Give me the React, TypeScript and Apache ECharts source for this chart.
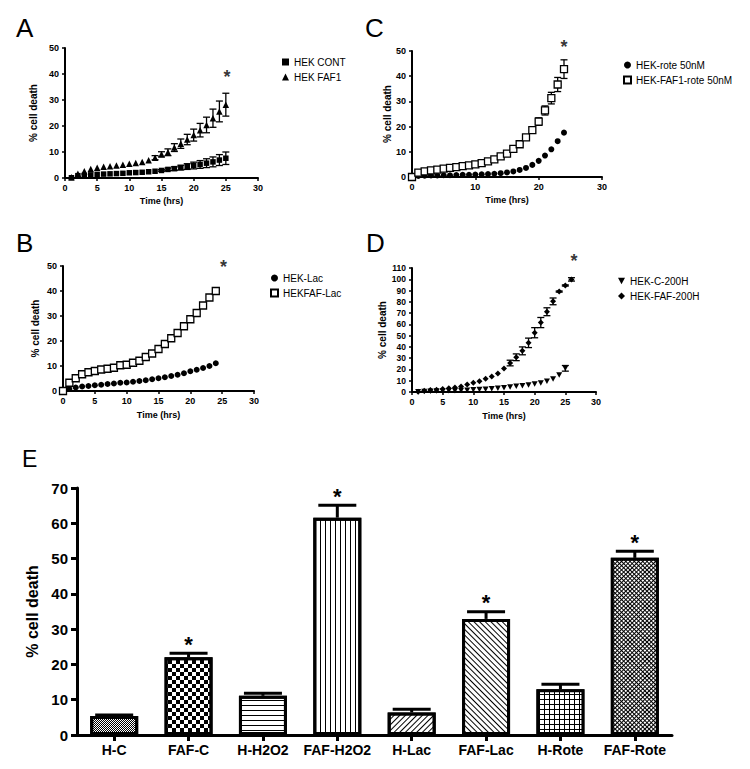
import React, { useEffect, useRef } from "react";
import * as echarts from "echarts";

const FONT = '"Liberation Sans", Arial, Helvetica, sans-serif';

// ---------- Panel A ----------
const aHours = [1, 2, 3, 4, 5, 6, 7, 8, 9, 10, 11, 12, 13, 14, 15, 16, 17, 18, 19, 20, 21, 22, 23, 24, 25];
const aCont = [0.1, 0.9, 1.0, 1.2, 1.4, 1.5, 1.6, 1.7, 1.8, 2.0, 2.1, 2.2, 2.4, 2.6, 2.9, 3.3, 3.6, 4.0, 4.4, 4.8, 5.2, 5.7, 6.2, 6.9, 7.6];
const aContErr = [0, 0, 0, 0, 0, 0, 0, 0, 0, 0, 0, 0, 0, 0, 0.3, 0.5, 0.7, 0.9, 1.1, 1.3, 1.5, 1.7, 1.9, 2.1, 2.4];
const aFaf1 = [0.3, 1.6, 2.6, 3.5, 3.9, 4.3, 4.5, 4.8, 5.1, 5.5, 5.8, 6.2, 6.8, 7.8, 9.1, 9.9, 11.7, 13.2, 14.8, 16.5, 18.4, 20.4, 23.0, 25.6, 28.2];
const aFaf1Err = [0, 0, 0, 0, 0, 0, 0, 0, 0, 0, 0, 0, 0, 0.8, 1.0, 1.3, 1.5, 1.8, 2.0, 2.3, 2.6, 3.0, 3.5, 4.0, 4.4];
const aStar = [25.2, 39];

// ---------- Panel C ----------
const cHours = [0, 1, 2, 3, 4, 5, 6, 7, 8, 9, 10, 11, 12, 13, 14, 15, 16, 17, 18, 19, 20, 21, 22, 23, 24];
const cRote = [0, 0.4, 0.5, 0.6, 0.6, 0.7, 0.7, 0.8, 0.9, 0.9, 1.0, 1.1, 1.2, 1.3, 1.5, 1.8, 2.2, 2.8, 3.6, 4.8, 6.4, 8.5, 11.0, 14.2, 17.6];
const cFafRote = [0, 1.7, 2.2, 2.6, 2.9, 3.3, 3.6, 3.9, 4.3, 4.6, 5.0, 5.5, 6.2, 7.0, 8.2, 9.3, 11.2, 13.0, 15.7, 18.6, 22.0, 26.4, 31.3, 36.7, 42.8];
const cFafRoteErr = [0, 0, 0, 0, 0, 0, 0, 0, 0, 0, 0, 0, 0, 0, 0, 0, 0, 0.5, 0.7, 1.0, 1.5, 1.8, 2.3, 2.8, 3.7];
const cStar = [24, 51.5];

// ---------- Panel B ----------
const bHours = [0, 1, 2, 3, 4, 5, 6, 7, 8, 9, 10, 11, 12, 13, 14, 15, 16, 17, 18, 19, 20, 21, 22, 23, 24];
const bLac = [0, 0.8, 1.4, 1.8, 2.0, 2.3, 2.5, 2.8, 3.0, 3.3, 3.4, 3.7, 4.0, 4.3, 4.7, 5.1, 5.5, 6.0, 6.5, 7.1, 7.9, 8.5, 9.2, 10.0, 11.1];
const bFafLac = [0, 3.3, 5.1, 6.7, 7.5, 8.0, 8.6, 8.9, 9.3, 10.3, 10.5, 11.3, 12.1, 13.6, 15.0, 16.8, 18.8, 21.1, 23.2, 25.9, 28.7, 31.2, 34.2, 37.4, 40.0];
const bFafLacErr = [0, 0, 0, 0, 0, 0, 0, 0, 0, 0, 0, 0, 0, 0, 0, 0, 0, 0, 0, 0, 0, 0, 0, 0, 0.6];
const bStar = [25.2, 49.5];

// ---------- Panel D ----------
const dHoursC = [1, 2, 3, 4, 5, 6, 7, 8, 9, 10, 11, 12, 13, 14, 15, 16, 17, 18, 19, 20, 21, 22, 23, 24, 25];
const dC200 = [0.2, 0.4, 0.6, 0.8, 0.9, 1.0, 1.2, 1.3, 1.6, 1.9, 2.2, 2.5, 2.9, 3.3, 3.8, 4.4, 5.0, 5.6, 6.3, 7.0, 8.0, 9.5, 11.5, 15.0, 21.0];
const dC200Err = [0, 0, 0, 0, 0, 0, 0, 0, 0, 0, 0, 0, 0, 0, 0, 0, 0, 0, 0, 0, 0, 0, 0, 0, 2.5];
const dHoursF = [1, 2, 3, 4, 5, 6, 7, 8, 9, 10, 11, 12, 13, 14, 15, 16, 17, 18, 19, 20, 21, 22, 23, 24, 25, 26];
const dFaf200 = [0.3, 1.2, 1.8, 2.1, 2.7, 3.3, 3.9, 4.8, 6.6, 8.1, 9.6, 11.7, 13.8, 16.4, 20.9, 25.7, 30.8, 36.5, 43.6, 52.6, 61.6, 71.2, 80.4, 89.1, 94.5, 99.9];
const dFaf200Err = [0, 0, 0, 0, 0, 0, 0, 0, 0, 0, 0, 0, 0, 0, 0, 2.5, 3.0, 3.5, 4.2, 4.5, 4.5, 3.5, 3.0, 0.5, 0.5, 1.5];
const dStar = [26.4, 116];

// ---------- Panel E ----------
const eCats = ["H-C", "FAF-C", "H-H2O2", "FAF-H2O2", "H-Lac", "FAF-Lac", "H-Rote", "FAF-Rote"];
const eVals = [5.4, 22.0, 11.1, 61.6, 6.4, 32.9, 13.0, 50.2];
const eErr = [0.3, 1.2, 0.7, 3.5, 0.9, 2.0, 1.4, 1.9];
const eSig = [0, 1, 0, 1, 0, 1, 0, 1];

// bar fill patterns (style, not data)
const eFills = ["#fff", "#fff", "#fff", "#fff", "#fff", "#fff", "#000", "#000"];
const eDecals: any[] = [
  { symbol: "rect", symbolSize: 1, dashArrayX: [[1, 1], [0, 1, 1, 0]], dashArrayY: [1, 0], color: "#000" },
  { symbol: "rect", symbolSize: 1, dashArrayX: [[4, 4], [0, 4, 4, 0]], dashArrayY: [4, 0], color: "#000" },
  { symbol: "rect", symbolSize: 1, dashArrayX: [1, 0], dashArrayY: [1, 4], color: "#000" },
  { symbol: "rect", symbolSize: 1, dashArrayX: [1, 4], dashArrayY: [1, 0], color: "#000" },
  { symbol: "rect", symbolSize: 1, dashArrayX: [1, 0], dashArrayY: [1, 3], rotation: -Math.PI / 4, color: "#000" },
  { symbol: "rect", symbolSize: 1, dashArrayX: [1, 0], dashArrayY: [1, 3], rotation: Math.PI / 4, color: "#000" },
  { symbol: "rect", symbolSize: 1, dashArrayX: [4, 1], dashArrayY: [4, 1], color: "#fff" },
  { symbol: "rect", symbolSize: 1, dashArrayX: [2, 1], dashArrayY: [2, 1], rotation: Math.PI / 4, color: "#fff" },
];

const pts = (xs: number[], ys: number[]) => xs.map((x, i) => [x, ys[i]]);
const errPts = (xs: number[], ys: number[], es: number[]) =>
  xs.map((x, i) => [x, ys[i], es[i]]).filter((p) => p[2] > 0);

function errSeries(name: string, idx: number, data: number[][], capHalf = 3.5) {
  return {
    type: "custom",
    name,
    xAxisIndex: idx,
    yAxisIndex: idx,
    z: 1,
    silent: true,
    data,
    renderItem: (params: any, api: any) => {
      const x = api.value(0), y = api.value(1), e = api.value(2);
      const t = api.coord([x, y + e]);
      const b = api.coord([x, y - e]);
      const st = { stroke: "#000", lineWidth: 1.3 };
      return {
        type: "group",
        children: [
          { type: "line", shape: { x1: t[0], y1: t[1], x2: b[0], y2: b[1] }, style: st },
          { type: "line", shape: { x1: t[0] - capHalf, y1: t[1], x2: t[0] + capHalf, y2: t[1] }, style: st },
          { type: "line", shape: { x1: b[0] - capHalf, y1: b[1], x2: b[0] + capHalf, y2: b[1] }, style: st },
        ],
      };
    },
  };
}

function starSeries(idx: number, p: number[]) {
  return {
    type: "scatter",
    name: "star" + idx,
    xAxisIndex: idx,
    yAxisIndex: idx,
    symbolSize: 0,
    clip: false,
    silent: true,
    data: [p],
    label: {
      show: true,
      position: "inside",
      formatter: "*",
      fontSize: 18,
      fontWeight: "bold",
      fontFamily: FONT,
      color: "#000",
    },
  };
}

function valAxis(gridIndex: number, min: number, max: number, interval: number, name: string, nameGap: number, isX: boolean, labelSize = 9) {
  return {
    type: "value",
    gridIndex,
    min,
    max,
    interval,
    name,
    nameLocation: "middle",
    nameGap,
    nameTextStyle: { fontSize: isX ? 9 : 10, fontWeight: "bold", fontFamily: FONT, color: "#000" },
    axisLine: { show: true, onZero: false, lineStyle: { color: "#000", width: 2 } },
    axisTick: { show: true, length: 3, lineStyle: { color: "#000", width: 1.5 } },
    axisLabel: { fontSize: labelSize, fontWeight: "bold", fontFamily: FONT, color: "#000", margin: isX ? 5 : 6 },
    splitLine: { show: false },
  };
}

function legendAt(names: string[], left: number, top: number) {
  return {
    data: names,
    left,
    top,
    orient: "vertical",
    itemWidth: 7,
    itemHeight: 7,
    itemGap: 3,
    selectedMode: false,
    textStyle: { fontSize: 10, fontFamily: FONT, color: "#000", lineHeight: 12 },
  };
}

const openSq = { color: "#fff", borderColor: "#000", borderWidth: 1.3, opacity: 1 };
const black = { color: "#000", opacity: 1 };

export default function App() {
  const ref = useRef<HTMLDivElement>(null);
  useEffect(() => {
    if (!ref.current) return;
    const chart = echarts.init(ref.current, null, { renderer: "svg" });
    const option: any = {
      animation: false,
      backgroundColor: "#fff",
      grid: [
        { left: 65, top: 48, width: 193, height: 130 },
        { left: 412, top: 51, width: 190, height: 126 },
        { left: 63, top: 266, width: 191, height: 125 },
        { left: 412, top: 268, width: 184, height: 124 },
        { left: 77, top: 488, width: 595, height: 247 },
      ],
      xAxis: [
        valAxis(0, 0, 30, 5, "Time (hrs)", 18, true),
        valAxis(1, 0, 30, 10, "Time (hrs)", 18, true),
        valAxis(2, 0, 30, 5, "Time (hrs)", 19, true),
        valAxis(3, 0, 30, 5, "Time (hrs)", 19, true),
        {
          type: "category",
          gridIndex: 4,
          data: eCats,
          axisLine: { show: true, lineStyle: { color: "#000", width: 3 } },
          axisTick: { show: true, alignWithLabel: true, length: 6, lineStyle: { color: "#000", width: 3 } },
          axisLabel: { interval: 0, fontSize: 14, fontWeight: "bold", fontFamily: FONT, color: "#000", margin: 8 },
          splitLine: { show: false },
        },
      ],
      yAxis: [
        valAxis(0, 0, 50, 10, "% cell death", 27, false),
        valAxis(1, 0, 50, 10, "% cell death", 19, false),
        valAxis(2, 0, 50, 10, "% cell death", 23, false),
        valAxis(3, 0, 110, 10, "% cell death", 23, false, 8.5),
        {
          type: "value",
          gridIndex: 4,
          min: 0,
          max: 70,
          interval: 10,
          name: "% cell death",
          nameLocation: "middle",
          nameGap: 31,
          nameTextStyle: { fontSize: 16, fontWeight: "bold", fontFamily: FONT, color: "#000" },
          axisLine: { show: true, lineStyle: { color: "#000", width: 3 } },
          axisTick: { show: true, length: 6, lineStyle: { color: "#000", width: 3 } },
          axisLabel: { fontSize: 15, fontWeight: "bold", fontFamily: FONT, color: "#000", margin: 9 },
          splitLine: { show: false },
        },
      ],
      legend: [
        legendAt(["HEK CONT", "HEK FAF1"], 277, 51),
        legendAt(["HEK-rote 50nM", "HEK-FAF1-rote 50nM"], 618, 54),
        legendAt(["HEK-Lac", "HEKFAF-Lac"], 265, 267),
        legendAt(["HEK-C-200H", "HEK-FAF-200H"], 613, 270),
      ],
      graphic: [
        { type: "text", left: 16, top: 15, style: { text: "A", fontSize: 26, fontFamily: FONT, fill: "#000" } },
        { type: "text", left: 365, top: 15, style: { text: "C", fontSize: 26, fontFamily: FONT, fill: "#000" } },
        { type: "text", left: 16, top: 230, style: { text: "B", fontSize: 26, fontFamily: FONT, fill: "#000" } },
        { type: "text", left: 366, top: 230, style: { text: "D", fontSize: 26, fontFamily: FONT, fill: "#000" } },
        { type: "text", left: 22, top: 447, style: { text: "E", fontSize: 23, fontFamily: FONT, fill: "#000" } },
      ],
      series: [
        // A
        errSeries("errA1", 0, errPts(aHours, aCont, aContErr)),
        errSeries("errA2", 0, errPts(aHours, aFaf1, aFaf1Err)),
        { type: "scatter", name: "HEK CONT", xAxisIndex: 0, yAxisIndex: 0, symbol: "rect", symbolSize: 5.5, itemStyle: black, data: pts(aHours, aCont), z: 3 },
        { type: "scatter", name: "HEK FAF1", xAxisIndex: 0, yAxisIndex: 0, symbol: "triangle", symbolSize: 6.5, itemStyle: black, data: pts(aHours, aFaf1), z: 3 },
        starSeries(0, aStar),
        // C
        errSeries("errC2", 1, errPts(cHours, cFafRote, cFafRoteErr)),
        { type: "scatter", name: "HEK-rote 50nM", xAxisIndex: 1, yAxisIndex: 1, symbol: "circle", symbolSize: 6, itemStyle: black, data: pts(cHours, cRote), z: 3 },
        { type: "scatter", name: "HEK-FAF1-rote 50nM", xAxisIndex: 1, yAxisIndex: 1, symbol: "rect", symbolSize: 7, itemStyle: openSq, data: pts(cHours, cFafRote), z: 3 },
        starSeries(1, cStar),
        // B
        errSeries("errB2", 2, errPts(bHours, bFafLac, bFafLacErr)),
        { type: "scatter", name: "HEK-Lac", xAxisIndex: 2, yAxisIndex: 2, symbol: "circle", symbolSize: 6, itemStyle: black, data: pts(bHours, bLac), z: 3 },
        { type: "scatter", name: "HEKFAF-Lac", xAxisIndex: 2, yAxisIndex: 2, symbol: "rect", symbolSize: 7, itemStyle: openSq, data: pts(bHours, bFafLac), z: 3 },
        starSeries(2, bStar),
        // D
        errSeries("errD1", 3, errPts(dHoursC, dC200, dC200Err)),
        errSeries("errD2", 3, errPts(dHoursF, dFaf200, dFaf200Err)),
        { type: "scatter", name: "HEK-C-200H", xAxisIndex: 3, yAxisIndex: 3, symbol: "path://M0,0L10,0L5,9Z", symbolSize: [6, 5.5], itemStyle: black, data: pts(dHoursC, dC200), z: 3 },
        { type: "scatter", name: "HEK-FAF-200H", xAxisIndex: 3, yAxisIndex: 3, symbol: "diamond", symbolSize: 6, itemStyle: black, data: pts(dHoursF, dFaf200), z: 3 },
        starSeries(3, dStar),
        // E
        {
          type: "bar",
          name: "cell death",
          xAxisIndex: 4,
          yAxisIndex: 4,
          barWidth: 48,
          z: 2,
          data: eVals.map((v, i) => ({
            value: v,
            itemStyle: { color: eFills[i], borderColor: "#000", borderWidth: 3, decal: eDecals[i] },
          })),
        },
        {
          type: "custom",
          name: "errE",
          xAxisIndex: 4,
          yAxisIndex: 4,
          z: 4,
          silent: true,
          data: eCats.map((c, i) => [i, eVals[i], eErr[i], eSig[i]]),
          renderItem: (params: any, api: any) => {
            const x = api.value(0), v = api.value(1), e = api.value(2), s = api.value(3);
            const b = api.coord([x, v]);
            const t = api.coord([x, v + e]);
            const st = { stroke: "#000", lineWidth: 3 };
            const children: any[] = [
              { type: "line", shape: { x1: b[0], y1: b[1], x2: t[0], y2: t[1] }, style: st },
              { type: "line", shape: { x1: t[0] - 19, y1: t[1], x2: t[0] + 19, y2: t[1] }, style: st },
            ];
            if (s) {
              children.push({
                type: "text",
                x: t[0],
                y: t[1] - 9,
                style: { text: "*", fontSize: 22, fontWeight: "bold", fontFamily: FONT, fill: "#000", align: "center", verticalAlign: "middle" },
              });
            }
            return { type: "group", children };
          },
        },
      ],
    };
    chart.setOption(option);
    return () => chart.dispose();
  }, []);
  return (
    <div
      ref={ref}
      style={{ position: "absolute", left: 0, top: 0, width: 750, height: 769, background: "#fff" }}
    />
  );
}
